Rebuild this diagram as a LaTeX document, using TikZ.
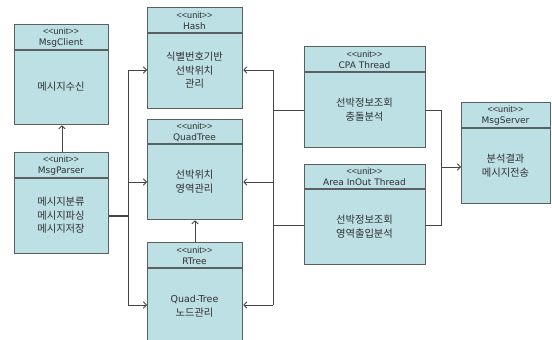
\documentclass[tikz,border=0pt]{standalone}
\usepackage{fontspec}
\setmainfont{DejaVu Sans}
\newfontfamily\kr{Noto Sans CJK KR}
\newfontfamily\lib{Liberation Sans}
\usetikzlibrary{arrows.meta}
\definecolor{boxfill}{HTML}{BCE0E4}
\definecolor{edgecol}{HTML}{5A5F60}
\definecolor{linecol}{HTML}{454545}
\definecolor{txtcol}{HTML}{303030}
\newcommand\umlbox[8]{%
  \node[ubox, minimum width={#4-#2}, minimum height={#5-#3}] (#1) at (#2,#3) {};
  \draw[divline] (#2,#6) -- (#4,#6);
  \node[txt] (#1-t) at ({(#2+#4)/2},{(#3+#6)/2+0.5}) {{\lib <\kern0pt<\kern0pt unit\kern0pt>\kern0pt>}\\#7};
  \node[ktxt] (#1-b) at ({(#2+#4)/2},{(#6+#5)/2}) {#8};
}
\begin{document}
\begin{tikzpicture}[x=1pt,y=-1pt,
  ubox/.style={draw=edgecol, line width=1.3pt, fill=boxfill, inner sep=0pt, anchor=north west},
  divline/.style={draw=edgecol, line width=1.1pt},
  txt/.style={font=\fontsize{9}{11}\selectfont, align=center, text=txtcol, inner sep=0pt},
  ktxt/.style={font=\kr\fontsize{10.3}{13.5}\selectfont, align=center, text=txtcol, inner sep=0pt},
  conn/.style={draw=linecol, line width=0.9pt},
  arr/.style={conn, -{Straight Barb[length=3pt,width=6.5pt]}}]
\useasboundingbox (0,0) rectangle (552,340);
\fill[white] (0,0) rectangle (552,340);

\umlbox{msgclient}{14}{24}{108}{124}{50}{MsgClient}{메시지수신}
\umlbox{msgparser}{14}{152}{108}{253}{178}{MsgParser}{메시지분류\\메시지파싱\\메시지저장}
\umlbox{hash}{147}{7}{242}{108}{33}{Hash}{식별번호기반\\선박위치\\관리}
\umlbox{quadtree}{147}{119}{242}{219}{144}{QuadTree}{선박위치\\영역관리}
\umlbox{rtree}{147}{242}{242}{345}{268}{RTree}{{\rmfamily\fontsize{9.5}{13.5}\selectfont Quad-Tree}\\노드관리}
\umlbox{cpa}{304}{46}{425}{147}{72}{CPA Thread}{선박정보조회\\충돌분석}
\umlbox{area}{304}{164}{425}{264}{189}{Area InOut Thread}{선박정보조회\\영역출입분석}
\umlbox{msgserver}{461}{102}{550}{203}{128}{MsgServer}{분석결과\\메시지전송}

% MsgParser -> MsgClient
\coordinate (pc) at (62,152);
\draw[arr] (pc) -- (pc |- msgclient.south);

% left bus
\coordinate (pl) at (128,216);
\coordinate (lt) at (128,70);
\coordinate (lm) at (128,182);
\coordinate (lb) at (128,305);
\draw[conn, line width=1.4pt] (pl -| msgparser.east) -- (pl);
\draw[conn] (lt) -- (lb);
\draw[arr] (lt) -- (lt -| hash.west);
\draw[arr] (lm) -- (lm -| quadtree.west);
\draw[arr] (lb) -- (lb -| rtree.west);

% RTree -> QuadTree
\coordinate (rq) at (195,242);
\draw[arr] (rq) -- (rq |- quadtree.south);

% right bus
\coordinate (rt) at (273,70);
\coordinate (rm) at (273,182);
\coordinate (rb) at (273,305);
\coordinate (rc) at (273,110);
\coordinate (ra) at (273,225);
\draw[conn] (rt) -- (rb);
\draw[arr] (rt) -- (rt -| hash.east);
\draw[arr] (rm) -- (rm -| quadtree.east);
\draw[arr] (rb) -- (rb -| rtree.east);
\draw[conn] (rc -| cpa.west) -- (rc);
\draw[conn] (ra -| area.west) -- (ra);

% server bus
\coordinate (sc) at (441,110);
\coordinate (sa) at (441,225);
\coordinate (ss) at (441,167);
\draw[conn] (sc -| cpa.east) -- (sc) -- (sa) -- (sa -| area.east);
\draw[arr] (ss) -- (ss -| msgserver.west);
\end{tikzpicture}
\end{document}
